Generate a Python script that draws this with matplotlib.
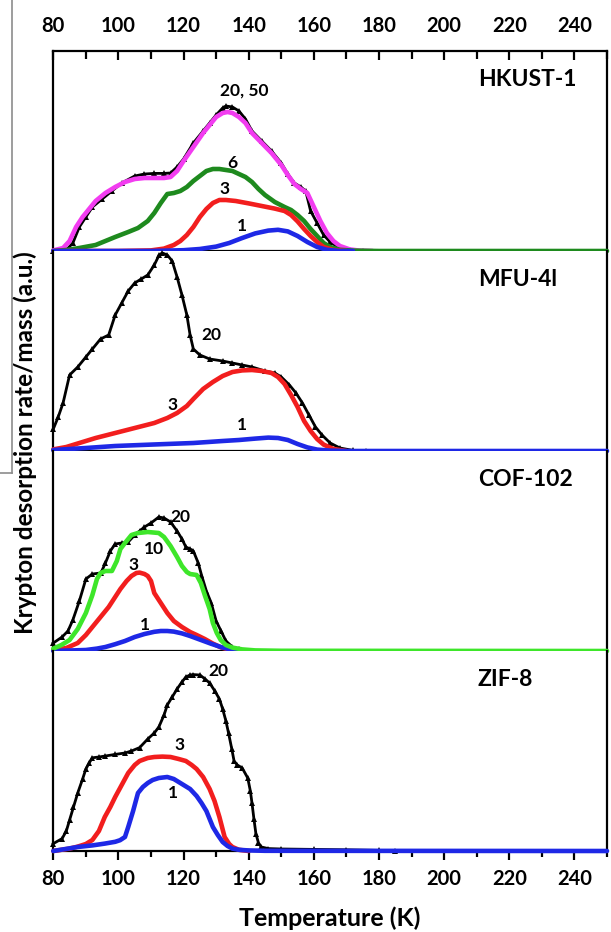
import matplotlib
matplotlib.use("Agg")
import matplotlib.pyplot as plt
from matplotlib.lines import Line2D
from matplotlib.ticker import MultipleLocator

plt.rcParams['font.family'] = ['Lato', 'DejaVu Sans']

# ---------------- data (temperature in K, desorption rate in a.u.) ----------------
# HKUST-1
hk_T20 = [80, 84, 86, 88, 90, 92, 95, 98, 101, 105, 108, 111, 114, 116, 118, 120, 123, 126, 128, 130,
          132, 133, 135, 137, 139, 141, 144, 147, 150, 152, 154, 156, 157.5, 159, 161, 163, 165, 168, 171, 175]
hk_y20 = [0.0, 0.005, 0.04, 0.12, 0.17, 0.22, 0.26, 0.30, 0.34, 0.375, 0.385, 0.388, 0.388, 0.39, 0.42, 0.46,
          0.54, 0.60, 0.64, 0.68, 0.715, 0.725, 0.72, 0.70, 0.66, 0.60, 0.55, 0.50, 0.44, 0.385, 0.34, 0.32,
          0.30, 0.20, 0.14, 0.08, 0.045, 0.013, 0.003, 0.0]
hk_T50 = [80, 83, 85, 87, 89, 91, 93, 96, 99, 102, 105, 108, 111, 114, 116, 118, 120, 123, 126, 128, 130,
          132, 133.5, 135, 137, 139, 141, 144, 147, 150, 152, 154, 156, 158, 160, 162, 164, 166, 168, 171, 174, 178]
hk_y50 = [0.003, 0.015, 0.05, 0.12, 0.17, 0.21, 0.25, 0.29, 0.32, 0.345, 0.36, 0.365, 0.365, 0.365, 0.37,
          0.40, 0.45, 0.52, 0.59, 0.63, 0.67, 0.69, 0.695, 0.69, 0.67, 0.64, 0.59, 0.54, 0.49, 0.43, 0.38,
          0.335, 0.31, 0.29, 0.22, 0.15, 0.09, 0.05, 0.025, 0.008, 0.002, 0.0]
hk_T6 = [80, 84, 88, 93, 99, 103, 106, 109, 111, 113, 115, 117, 119, 121, 123, 125, 127, 129, 131, 133, 135,
         137, 139, 141, 143, 145, 148, 151, 153, 155, 157, 159, 161, 163, 165, 168, 172, 180, 250]
hk_y6 = [0.0, 0.005, 0.015, 0.03, 0.07, 0.095, 0.115, 0.15, 0.19, 0.24, 0.285, 0.29, 0.30, 0.32, 0.35, 0.375,
         0.40, 0.41, 0.41, 0.405, 0.40, 0.385, 0.37, 0.345, 0.31, 0.28, 0.245, 0.22, 0.205, 0.18, 0.15, 0.11,
         0.075, 0.04, 0.02, 0.006, 0.002, 0.0, 0.0]
hk_T3 = [80, 100, 110, 114, 117, 119, 121, 123, 125, 127, 129, 131, 133, 136, 140, 144, 148, 151, 153, 155,
         157, 159, 161, 163, 166, 170]
hk_y3 = [0.0, 0.0, 0.003, 0.012, 0.03, 0.05, 0.08, 0.12, 0.17, 0.21, 0.24, 0.255, 0.255, 0.25, 0.238, 0.225,
         0.212, 0.2, 0.18, 0.148, 0.11, 0.075, 0.045, 0.02, 0.005, 0.0]
hk_T1 = [80, 110, 120, 125, 130, 134, 138, 142, 146, 149, 152, 155, 158, 161, 164, 168, 172]
hk_y1 = [0.0, 0.0, 0.004, 0.01, 0.022, 0.04, 0.065, 0.088, 0.102, 0.106, 0.098, 0.075, 0.045, 0.02, 0.006,
         0.0, 0.0]

# MFU-4l
mf_T20 = [80, 81.5, 83, 85, 87.5, 90, 92, 94.5, 97, 99, 101, 103, 105, 107, 109, 111, 112.5, 113.5, 115,
          116.5, 118, 119.5, 121, 122, 123, 125, 128, 132, 135, 138, 141, 145, 148, 150, 152.5, 154.5, 156.5,
          158.5, 160.5, 162.5, 165, 168, 172, 176]
mf_y20 = [0.11, 0.17, 0.24, 0.38, 0.42, 0.47, 0.51, 0.56, 0.58, 0.68, 0.74, 0.80, 0.84, 0.86, 0.88, 0.93,
          0.98, 0.99, 0.98, 0.95, 0.87, 0.78, 0.68, 0.58, 0.51, 0.48, 0.46, 0.45, 0.44, 0.43, 0.42, 0.40, 0.39,
          0.37, 0.33, 0.29, 0.24, 0.18, 0.12, 0.08, 0.04, 0.015, 0.003, 0.0]
mf_T3 = [80, 84, 88, 93, 99, 105, 111, 115, 118, 121, 123, 126, 129, 132, 135, 138, 141, 144, 147, 149, 151,
         153, 155, 157, 159, 161, 163, 166, 170]
mf_y3 = [0.008, 0.02, 0.04, 0.065, 0.09, 0.115, 0.14, 0.165, 0.19, 0.225, 0.26, 0.31, 0.345, 0.375, 0.395,
         0.403, 0.405, 0.40, 0.39, 0.37, 0.335, 0.28, 0.22, 0.15, 0.10, 0.06, 0.032, 0.01, 0.0]
mf_T1 = [80, 90, 99, 110, 123, 132, 137, 142, 146, 149, 152, 155, 158, 161, 165, 170, 250]
mf_y1 = [0.005, 0.015, 0.025, 0.032, 0.04, 0.05, 0.055, 0.062, 0.067, 0.065, 0.055, 0.035, 0.018, 0.007,
         0.002, 0.0, 0.0]

# COF-102
cf_T20 = [80, 82.7, 84.5, 86, 88, 90, 92, 94.6, 96, 97.5, 99, 101, 103, 105, 106.5, 108, 110, 112.4, 114,
          116, 118, 119.5, 120.7, 122, 123, 124.5, 125.5, 127, 128.5, 130, 131.5, 133, 135, 137, 140]
cf_y20 = [0.04, 0.07, 0.10, 0.155, 0.25, 0.36, 0.385, 0.39, 0.44, 0.50, 0.535, 0.54, 0.545, 0.58, 0.60,
          0.62, 0.64, 0.67, 0.665, 0.645, 0.60, 0.56, 0.52, 0.51, 0.50, 0.44, 0.38, 0.30, 0.24, 0.15, 0.10,
          0.05, 0.02, 0.008, 0.0]
cf_T10 = [80, 82.5, 85, 87.5, 90, 92, 93.4, 94.5, 96, 98, 99.5, 100.6, 102, 104, 106, 109, 112.4, 114, 116,
          118, 119.5, 121, 122, 124, 125.3, 126.6, 128, 129, 130.2, 131.4, 133, 135, 138, 142, 150, 250]
cf_y10 = [0.012, 0.03, 0.055, 0.11, 0.19, 0.28, 0.36, 0.39, 0.40, 0.40, 0.45, 0.51, 0.54, 0.58, 0.59, 0.595,
          0.59, 0.57, 0.525, 0.47, 0.425, 0.395, 0.385, 0.38, 0.34, 0.275, 0.21, 0.14, 0.09, 0.055, 0.03,
          0.017, 0.008, 0.003, 0.001, 0.0]
cf_T3 = [80, 84, 87.5, 90, 92, 94.5, 97, 99, 100.6, 102.5, 104, 105.5, 106.5, 108, 109, 110, 111, 113, 115,
         117, 119.5, 122, 124, 126.5, 129, 131.5, 134, 137]
cf_y3 = [0.005, 0.015, 0.04, 0.08, 0.12, 0.17, 0.22, 0.27, 0.31, 0.35, 0.375, 0.39, 0.392, 0.385, 0.375,
         0.35, 0.29, 0.24, 0.19, 0.15, 0.12, 0.095, 0.08, 0.06, 0.037, 0.018, 0.007, 0.0]
cf_T1 = [80, 90, 93.4, 96, 99, 102, 105, 108, 111, 113, 115, 117, 119.5, 122, 125.5, 128.5, 131.4, 134, 137,
         140]
cf_y1 = [0.0, 0.005, 0.012, 0.02, 0.034, 0.05, 0.07, 0.085, 0.096, 0.10, 0.10, 0.097, 0.088, 0.075, 0.054,
         0.036, 0.02, 0.009, 0.003, 0.0]

# ZIF-8
zf_T20 = [80, 82.7, 84, 85, 86.2, 87.5, 89, 90, 91, 92, 94, 96, 99, 102, 104, 106.5, 109, 111, 112.4, 114,
          115, 116.5, 118, 119.5, 120.7, 122, 123, 125, 126.6, 128, 129.6, 131, 132, 133, 133.8, 134.8, 135.5,
          136.5, 138, 139.7, 140.5, 141, 141.6, 142.2, 143, 143.9, 146, 150, 160, 170, 180, 185]
zf_y20 = [0.037, 0.062, 0.10, 0.155, 0.22, 0.29, 0.36, 0.41, 0.44, 0.466, 0.47, 0.475, 0.483, 0.49, 0.50,
          0.517, 0.56, 0.59, 0.62, 0.68, 0.73, 0.77, 0.81, 0.845, 0.87, 0.88, 0.882, 0.88, 0.86, 0.84, 0.80,
          0.76, 0.71, 0.65, 0.59, 0.51, 0.45, 0.43, 0.415, 0.365, 0.30, 0.24, 0.16, 0.087, 0.04, 0.02, 0.012,
          0.01, 0.008, 0.006, 0.003, 0.0]
zf_T3 = [80, 85, 87.5, 90, 92, 94, 95.8, 97.5, 99, 101, 103, 105, 106.5, 109, 111, 113.5, 116, 118.5, 120.7,
         122.5, 124, 126, 128, 129.5, 131, 132.6, 134, 135, 137, 140]
zf_y3 = [0.0, 0.012, 0.022, 0.035, 0.055, 0.1, 0.17, 0.22, 0.27, 0.33, 0.39, 0.43, 0.45, 0.465, 0.47, 0.472,
         0.47, 0.46, 0.45, 0.43, 0.41, 0.37, 0.31, 0.25, 0.17, 0.07, 0.035, 0.02, 0.006, 0.0]
zf_T1 = [80, 87.5, 92, 95.8, 99, 100.5, 102, 103, 104.5, 106, 107.5, 109, 110.5, 112.4, 115, 117, 118, 120,
         122, 124, 125.5, 127, 129, 130.5, 132, 133.5, 135, 137, 139.7, 145, 250]
zf_y1 = [0.0, 0.02, 0.028, 0.037, 0.046, 0.054, 0.07, 0.12, 0.2, 0.29, 0.32, 0.34, 0.355, 0.365, 0.37, 0.36,
         0.35, 0.33, 0.31, 0.275, 0.24, 0.2, 0.12, 0.08, 0.045, 0.025, 0.012, 0.006, 0.003, 0.001, 0.0]

panel_names = ["HKUST-1", "MFU-4l", "COF-102", "ZIF-8"]
x_ticks = [80, 100, 120, 140, 160, 180, 200, 220, 240]

BLACK = "#000000"
MAGENTA = "#f23cf0"
DKGREEN = "#1e8a1e"
RED = "#f21e1e"
BLUE = "#1e28e6"
LIME = "#3ee62a"

# (T, y, colour) in drawing order, plus curve labels (text, T, y)
panels = [
    dict(curves=[(hk_T20, hk_y20, BLACK), (hk_T50, hk_y50, MAGENTA), (hk_T6, hk_y6, DKGREEN),
                 (hk_T3, hk_y3, RED), (hk_T1, hk_y1, BLUE)],
         labels=[("20, 50", 138.5, 0.80), ("6", 135, 0.44), ("3", 132.5, 0.31), ("1", 138, 0.125)]),
    dict(curves=[(mf_T20, mf_y20, BLACK), (mf_T3, mf_y3, RED), (mf_T1, mf_y1, BLUE)],
         labels=[("20", 128.5, 0.58), ("3", 116.5, 0.23), ("1", 138, 0.13)]),
    dict(curves=[(cf_T20, cf_y20, BLACK), (cf_T3, cf_y3, RED), (cf_T1, cf_y1, BLUE),
                 (cf_T10, cf_y10, LIME)],
         labels=[("20", 119, 0.67), ("10", 111, 0.51), ("3", 104.7, 0.43), ("1", 108, 0.13)]),
    dict(curves=[(zf_T20, zf_y20, BLACK), (zf_T3, zf_y3, RED), (zf_T1, zf_y1, BLUE)],
         labels=[("20", 130.8, 0.9), ("3", 118.6, 0.53), ("1", 116.6, 0.29)]),
]

W, H = 611, 932
fig = plt.figure(figsize=(W / 100, H / 100), dpi=100)

left_px, right_px = 53.3, 607.0
top_px, panel_px = 51.0, 200.0

axes = []
for i, spec in enumerate(panels):
    top = top_px + i * panel_px
    ax = fig.add_axes([left_px / W, 1 - (top + panel_px) / H, (right_px - left_px) / W, panel_px / H])
    axes.append(ax)
    ax.set_xlim(80, 250)
    ax.set_ylim(0, 1.0)
    ax.set_yticks([])
    for s in ax.spines.values():
        s.set_linewidth(1.6)
    if i > 0:
        ax.spines['top'].set_visible(False)

    for T, y, c in spec["curves"]:
        if c == BLACK:
            ax.plot(T, y, color=c, lw=2.0, marker='^', ms=4, mew=0, zorder=3,
                    solid_joinstyle='round', clip_on=False)
        else:
            ax.plot(T, y, color=c, lw=3.3, zorder=3, solid_joinstyle='round',
                    solid_capstyle='round', clip_on=False)

    for txt, tx, ty in spec["labels"]:
        ax.text(tx, ty, txt, fontsize=12.5, fontweight='bold', ha='center', va='center', zorder=4)
    ax.text(210.3, 0.857, panel_names[i], fontsize=16.5, fontweight='bold', ha='left', va='center')

    ax.xaxis.set_major_locator(MultipleLocator(20))
    ax.xaxis.set_minor_locator(MultipleLocator(10))
    if i == 0:
        ax.tick_params(axis='x', which='both', bottom=False, labelbottom=False, top=True, labeltop=True,
                       direction='in', width=1.6)
        ax.tick_params(axis='x', which='major', length=6.5, pad=10.5, labelsize=14.5)
        ax.tick_params(axis='x', which='minor', length=5.5)
    elif i == len(panels) - 1:
        ax.tick_params(axis='x', which='both', bottom=True, labelbottom=True, top=False,
                       direction='out', width=1.6)
        ax.tick_params(axis='x', which='major', length=6.5, pad=6.5, labelsize=14.5)
        ax.tick_params(axis='x', which='minor', length=4)
    else:
        ax.tick_params(axis='x', which='both', bottom=False, labelbottom=False, top=False, labeltop=False)
    ax.set_xticks(x_ticks)
    for lab in ax.get_xticklabels():
        lab.set_fontweight('bold')

fig.text((left_px + right_px) / 2 / W, 1 - 926.5 / H, "Temperature (K)", fontsize=18, fontweight='bold',
         ha='center', va='baseline')
fig.text(25 / W, 1 - 443 / H, "Krypton desorption rate/mass (a.u.)", rotation=90, fontsize=17.5,
         fontweight='bold', ha='center', va='center')

# thin grey rule at the left margin
grey = "#8c8c8c"
fig.add_artist(Line2D([11.5 / W, 11.5 / W], [1.0, 1 - 473 / H], color=grey, lw=1.2))
fig.add_artist(Line2D([0, 11.5 / W], [1 - 473 / H, 1 - 473 / H], color=grey, lw=1.2))

fig.savefig("out.png", dpi=100)
